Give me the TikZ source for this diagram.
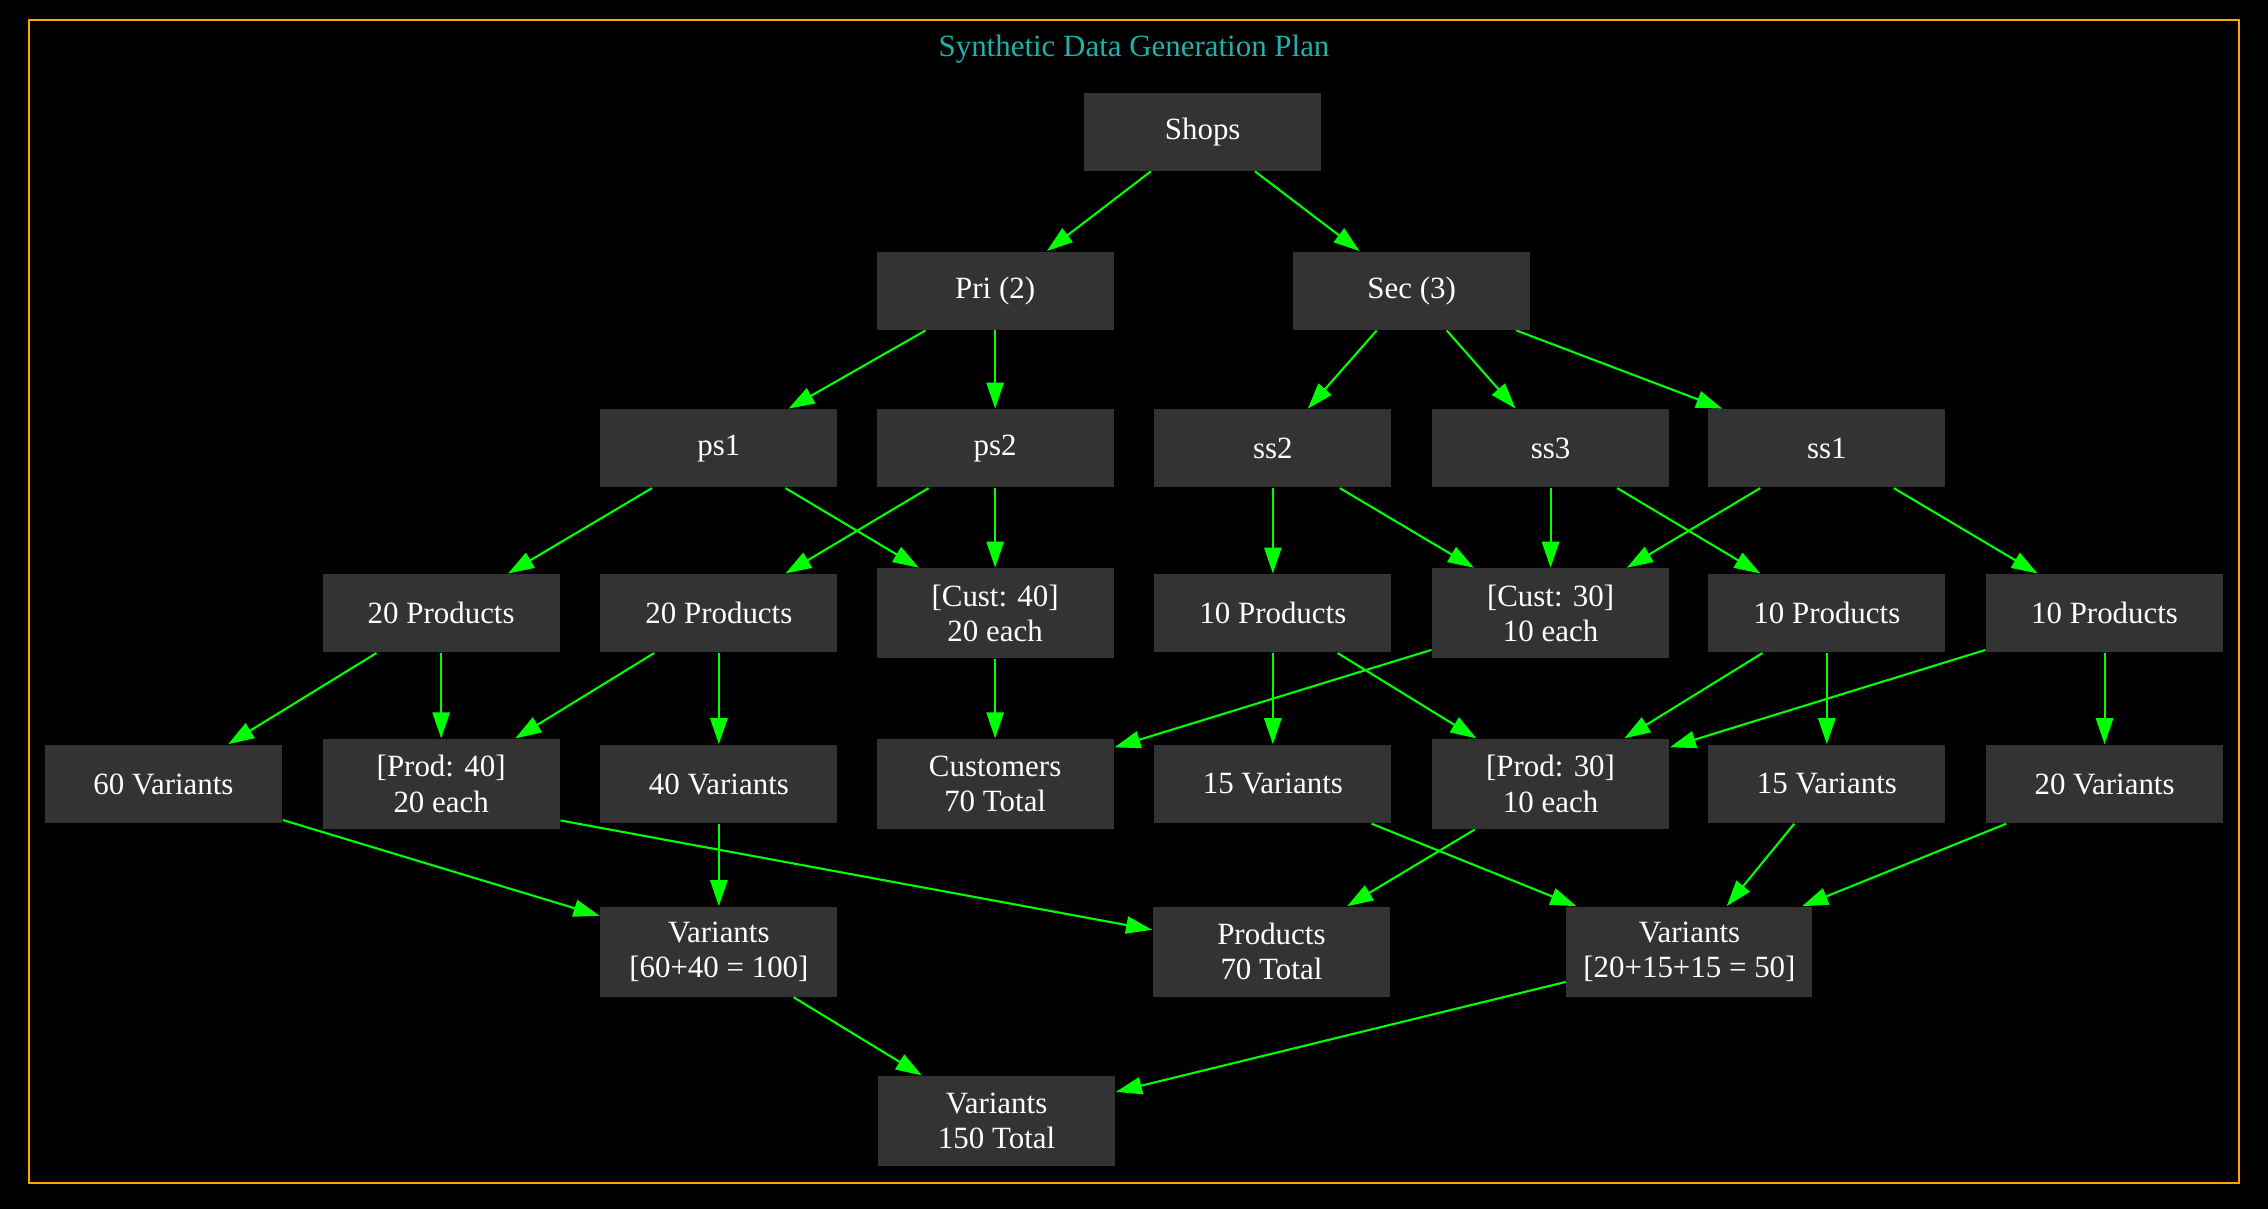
\documentclass[tikz,border=0pt]{standalone}
\usepackage{fontspec}
\setmainfont{Liberation Serif}
\usetikzlibrary{arrows.meta}
\definecolor{boxgray}{HTML}{333333}
\definecolor{linkgreen}{HTML}{00FF00}
\definecolor{titleteal}{HTML}{20B2AA}
\definecolor{frameorange}{HTML}{FFA500}

\begin{document}
\begin{tikzpicture}[x=0.14464mm,y=-0.14464mm,
  box/.style={fill=boxgray,text=white,minimum width=23.72mm,minimum height=7.81mm,inner sep=0pt,align=center,font=\fontsize{8.8}{10}\selectfont},
  tall/.style={minimum height=8.97mm},
  link/.style={draw=linkgreen,line width=0.6pt,-{Triangle[length=7.4pt,width=4.9pt]}}]
  \fill[black] (0,0) rectangle (1568,836);
  \draw[frameorange,line width=0.6pt] (20,14) rectangle (1548,818);
  \node[text=titleteal,font=\fontsize{8.8}{10}\selectfont] (title) at (784,34) {Synthetic Data Generation Plan};

  \node[box] (shops) at (831.5,91) {Shops};

  \node[box] (pri) at (688,201) {Pri (2)};
  \node[box] (sec) at (976,201) {Sec (3)};

  \node[box] (ps1) at (497,310) {ps1};
  \node[box] (ps2) at (688,310) {ps2};
  \node[box] (ss2) at (880,310) {ss2};
  \node[box] (ss3) at (1072,310) {ss3};
  \node[box] (ss1) at (1263,310) {ss1};

  \node[box] (prodA) at (305,424) {20 Products};
  \node[box] (prodB) at (497,424) {20 Products};
  \node[box,tall] (cust40) at (688,424) {[Cust: 40]\\20 each};
  \node[box] (prodC) at (880,424) {10 Products};
  \node[box,tall] (cust30) at (1072,424) {[Cust: 30]\\10 each};
  \node[box] (prodD) at (1263,424) {10 Products};
  \node[box] (prodE) at (1455,424) {10 Products};

  \node[box] (varA) at (113,542) {60 Variants};
  \node[box,tall] (prod40) at (305,542) {[Prod: 40]\\20 each};
  \node[box] (varB) at (497,542) {40 Variants};
  \node[box,tall] (custTotal) at (688,542) {Customers\\70 Total};
  \node[box] (varC) at (880,542) {15 Variants};
  \node[box,tall] (prod30) at (1072,542) {[Prod: 30]\\10 each};
  \node[box] (varD) at (1263,542) {15 Variants};
  \node[box] (varE) at (1455,542) {20 Variants};

  \node[box,tall] (var100) at (497,658) {Variants\\{}[60+40 = 100]};
  \node[box,tall] (prodTotal) at (879,658) {Products\\70 Total};
  \node[box,tall,minimum width=24.59mm] (var50) at (1168,658) {Variants\\{}[20+15+15 = 50]};

  \node[box,tall] (varTotal) at (689,775) {Variants\\150 Total};

  \draw[link] (shops) -- (pri);
  \draw[link] (shops) -- (sec);
  \draw[link] (pri) -- (ps1);
  \draw[link] (pri) -- (ps2);
  \draw[link] (sec) -- (ss2);
  \draw[link] (sec) -- (ss3);
  \draw[link] (sec) -- (ss1);
  \draw[link] (ps1) -- (prodA);
  \draw[link] (ps1) -- (cust40);
  \draw[link] (ps2) -- (prodB);
  \draw[link] (ps2) -- (cust40);
  \draw[link] (ss2) -- (prodC);
  \draw[link] (ss2) -- (cust30);
  \draw[link] (ss3) -- (cust30);
  \draw[link] (ss3) -- (prodD);
  \draw[link] (ss1) -- (cust30);
  \draw[link] (ss1) -- (prodE);
  \draw[link] (prodA) -- (varA);
  \draw[link] (prodA) -- (prod40);
  \draw[link] (prodB) -- (prod40);
  \draw[link] (prodB) -- (varB);
  \draw[link] (cust40) -- (custTotal);
  \draw[link] (prodC) -- (varC);
  \draw[link] (prodC) -- (prod30);
  \draw[link] (cust30) -- (custTotal);
  \draw[link] (prodD) -- (prod30);
  \draw[link] (prodD) -- (varD);
  \draw[link] (prodE) -- (prod30);
  \draw[link] (prodE) -- (varE);
  \draw[link] (varA) -- (var100);
  \draw[link] (prod40.-17) -- (prodTotal);
  \draw[link] (varB) -- (var100);
  \draw[link] (prod30) -- (prodTotal);
  \draw[link] (varC) -- (var50);
  \draw[link] (varD) -- (var50);
  \draw[link] (varE) -- (var50);
  \draw[link] (var100) -- (varTotal);
  \draw[link] (var50) -- (varTotal);
\end{tikzpicture}
\end{document}
